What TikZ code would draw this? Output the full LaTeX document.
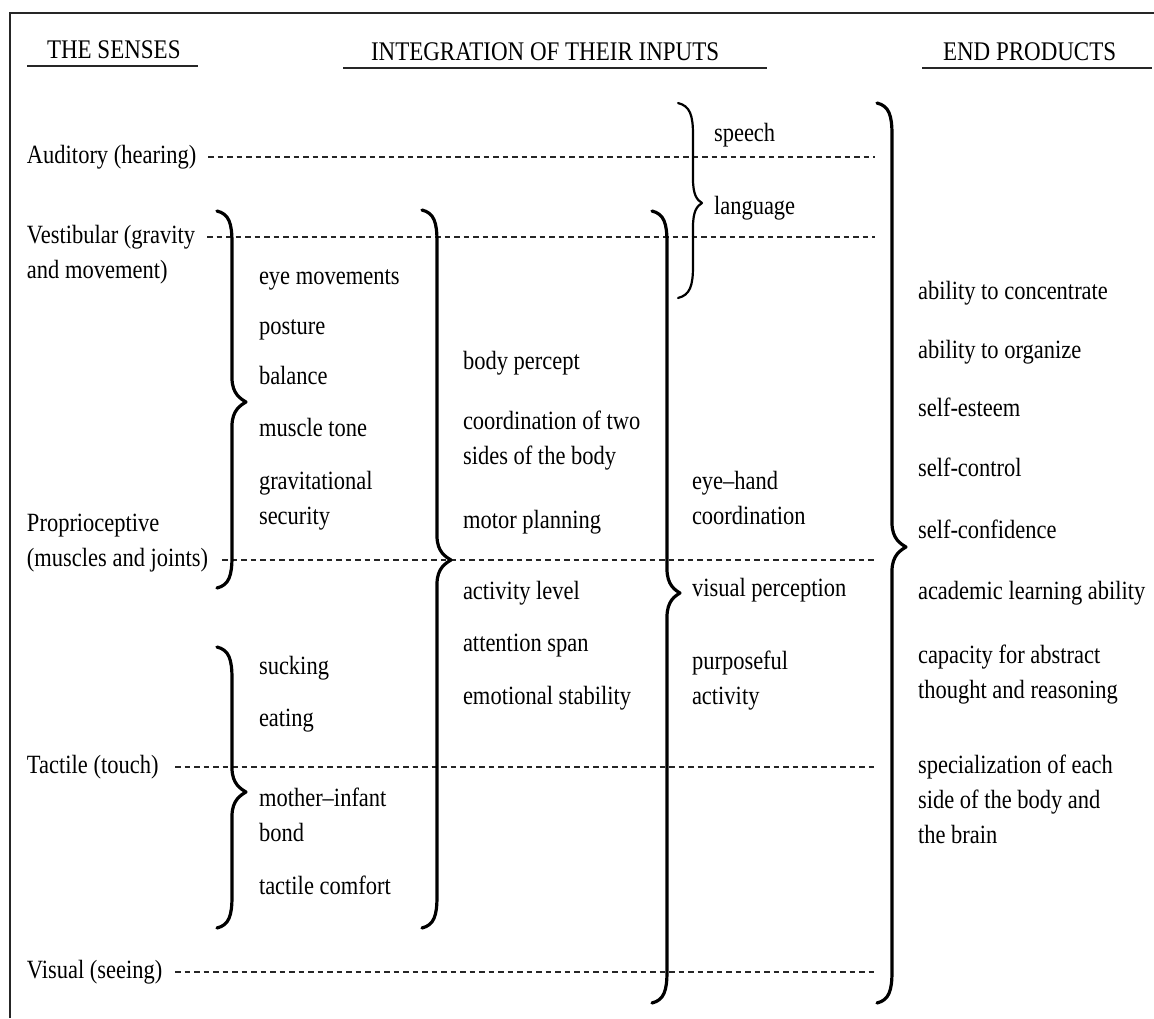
\documentclass[tikz,border=0pt]{standalone}
\usepackage{graphicx}
\usepackage{fontspec}
\setmainfont{Liberation Serif}
\newcommand{\T}[1]{\scalebox{1}[1.17]{\begin{tabular}[t]{@{}l@{}}#1\end{tabular}}}
\newcommand{\brc}[6][3.2pt]{%
  \draw[line width=#1,line cap=round,line join=round,black]
    ({#2-15},#3) .. controls ({#2-3},{#3+3}) and (#2,{#3+12}) .. (#2,{#3+32})
    -- (#2,{#5-24}) .. controls (#2,{#5-8}) and ({#2+#6-5},{#5-3}) .. ({#2+#6},#5)
    .. controls ({#2+#6-5},{#5+3}) and (#2,{#5+8}) .. (#2,{#5+24})
    -- (#2,{#4-32}) .. controls (#2,{#4-12}) and ({#2-3},{#4-3}) .. ({#2-15},#4);}
\begin{document}
\begin{tikzpicture}[x=1pt,y=-1pt,
  lbl/.style={anchor=base west,inner sep=0pt,outer sep=0pt,text=black,
    font=\fontsize{22.5}{30}\selectfont},
  hdr/.style={lbl,font=\fontsize{23}{30}\selectfont},
  dline/.style={line width=1.3pt,dash pattern=on 5.5pt off 4pt,black!85},
  rule/.style={line width=1.4pt,black!85}]
\useasboundingbox (0,0) rectangle (1154,1018);
\fill[white] (0,0) rectangle (1154,1018);
% frame
\draw[line width=2pt,black!85] (10,1018) -- (10,13) -- (1154,13);
% headers
\node[hdr] (h1) at (47,58) {\T{THE SENSES}};
\node[hdr] (h2) at (371,60) {\T{INTEGRATION OF THEIR INPUTS}};
\node[hdr] (h3) at (943,60) {\T{END PRODUCTS}};
\draw[rule] (27,66) -- (198,66);
\draw[rule] (343,68) -- (767,68);
\draw[rule] (922,68) -- (1152,68);
% senses
\node[lbl] (aud) at (27,163) {\T{Auditory (hearing)}};
\node[lbl] (vest) at (27,243) {\T{Vestibular (gravity\\and movement)}};
\node[lbl] (prop) at (27,531) {\T{Proprioceptive\\(muscles and joints)}};
\node[lbl] (tact) at (27,773) {\T{Tactile (touch)}};
\node[lbl] (vis) at (27,978) {\T{Visual (seeing)}};
% dashed lines
\coordinate (audS) at (208,157); \coordinate (audE) at (875,157);
\coordinate (vestS) at (207,237); \coordinate (vestE) at (875,237);
\coordinate (propS) at (222,560); \coordinate (propE) at (875,560);
\coordinate (tactS) at (175,767); \coordinate (tactE) at (875,767);
\coordinate (visS) at (175,972); \coordinate (visE) at (875,972);
\draw[dline] (audS) -- (audE);
\draw[dline] (vestS) -- (vestE);
\draw[dline] (propS) -- (propE);
\draw[dline] (tactS) -- (tactE);
\draw[dline] (visS) -- (visE);
% column 2
\node[lbl] (c2a) at (259,284) {\T{eye movements}};
\node[lbl] (c2b) at (259,334) {\T{posture}};
\node[lbl] (c2c) at (259,384) {\T{balance}};
\node[lbl] (c2d) at (259,436) {\T{muscle tone}};
\node[lbl] (c2e) at (259,489) {\T{gravitational\\security}};
\node[lbl] (c2f) at (259,674) {\T{sucking}};
\node[lbl] (c2g) at (259,726) {\T{eating}};
\node[lbl] (c2h) at (259,806) {\T{mother--infant\\bond}};
\node[lbl] (c2i) at (259,894) {\T{tactile comfort}};
% column 3
\node[lbl] (c3a) at (463,369) {\T{body percept}};
\node[lbl] (c3b) at (463,429) {\T{coordination of two\\sides of the body}};
\node[lbl] (c3c) at (463,528) {\T{motor planning}};
\node[lbl] (c3d) at (463,599) {\T{activity level}};
\node[lbl] (c3e) at (463,651) {\T{attention span}};
\node[lbl] (c3f) at (463,704) {\T{emotional stability}};
% column 4
\node[lbl] (sp) at (714,141) {\T{speech}};
\node[lbl] (lang) at (714,214) {\T{language}};
\node[lbl] (c4a) at (692,489) {\T{eye--hand\\coordination}};
\node[lbl] (c4b) at (692,596) {\T{visual perception}};
\node[lbl] (c4c) at (692,669) {\T{purposeful\\activity}};
% end products
\node[lbl] (e1) at (918,299) {\T{ability to concentrate}};
\node[lbl] (e2) at (918,358) {\T{ability to organize}};
\node[lbl] (e3) at (918,416) {\T{self-esteem}};
\node[lbl] (e4) at (918,476) {\T{self-control}};
\node[lbl] (e5) at (918,538) {\T{self-confidence}};
\node[lbl] (e6) at (918,599) {\T{academic learning ability}};
\node[lbl] (e7) at (918,663) {\T{capacity for abstract\\thought and reasoning}};
\node[lbl] (e8) at (918,773) {\T{specialization of each\\side of the body and\\the brain}};
% braces: stem x, top y, bottom y, cusp y, depth
\brc{232}{211}{588}{402}{14}
\brc{232}{647}{928}{792}{14}
\brc{437}{210}{928}{560}{14}
\brc{667}{211}{1003}{593}{13}
\brc[2.2pt]{693}{103}{298}{203}{9}
\brc{892}{103}{1003}{547}{14}
\end{tikzpicture}
\end{document}
